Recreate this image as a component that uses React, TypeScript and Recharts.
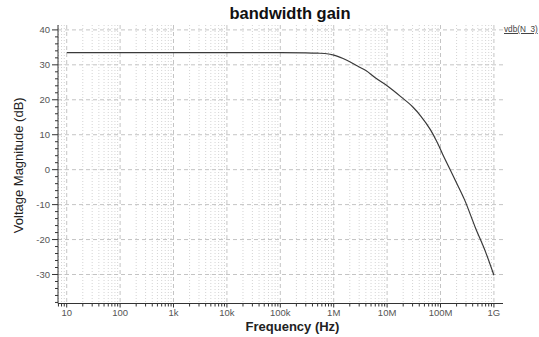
import { LineChart, Line, CartesianGrid, XAxis, YAxis, Label } from "recharts";

// frequency (Hz) and gain (dB)
const freqs = [
  10, 1e2, 1e3, 1e4, 1e5, 3e5, 5e5, 8e5, 1e6, 1.5e6, 2e6, 3e6, 4e6, 6e6, 1e7,
  1.8e7, 3e7, 4.2e7, 6.5e7, 8.7e7, 1.16e8, 1.55e8, 2e8, 2.8e8, 4.5e8, 7e8, 1e9,
];
const gain = [
  33.5, 33.5, 33.5, 33.5, 33.5, 33.45, 33.35, 33.1, 32.8, 31.8, 30.9, 29.4, 28.4,
  26.3, 24.0, 20.9, 18.0, 15.5, 11.4, 7.8, 3.6, -0.3, -3.8, -8.5, -16.6, -23.6,
  -30.2,
];

const decades = [10, 1e2, 1e3, 1e4, 1e5, 1e6, 1e7, 1e8, 1e9];
const decadeLabels = ["10", "100", "1k", "10k", "100k", "1M", "10M", "100M", "1G"];
const minorFreqs = [
  7, 8, 9,
  20, 30, 40, 50, 60, 70, 80, 90,
  200, 300, 400, 500, 600, 700, 800, 900,
  2e3, 3e3, 4e3, 5e3, 6e3, 7e3, 8e3, 9e3,
  2e4, 3e4, 4e4, 5e4, 6e4, 7e4, 8e4, 9e4,
  2e5, 3e5, 4e5, 5e5, 6e5, 7e5, 8e5, 9e5,
  2e6, 3e6, 4e6, 5e6, 6e6, 7e6, 8e6, 9e6,
  2e7, 3e7, 4e7, 5e7, 6e7, 7e7, 8e7, 9e7,
  2e8, 3e8, 4e8, 5e8, 6e8, 7e8, 8e8, 9e8,
];
const yMajor = [-30, -20, -10, 0, 10, 20, 30, 40];
const yTicks = [
  -38, -36, -34, -32, -30, -28, -26, -24, -22, -20, -18, -16, -14, -12, -10, -8,
  -6, -4, -2, 0, 2, 4, 6, 8, 10, 12, 14, 16, 18, 20, 22, 24, 26, 28, 30, 32, 34,
  36, 38, 40,
];

const xDomain = [6.87, 1.48e9];
const yDomain = [-38.3, 41.4];

const data = freqs.map((f, i) => ({ f, db: gain[i] }));
const allXTicks = [...decades, ...minorFreqs].sort((a, b) => a - b);

const font = "'Liberation Sans', Arial, sans-serif";

function XTick(props: any) {
  const { x, y, payload } = props;
  const idx = decades.indexOf(payload.value);
  const major = idx >= 0;
  return (
    <g>
      <line x1={x} x2={x} y1={y - 6} y2={y - 6 + (major ? 4 : 3)} stroke="#333" />
      {major && (
        <text x={x} y={y + 6} textAnchor="middle" fontSize={9.5} fill="#555" fontFamily={font}>
          {decadeLabels[idx]}
        </text>
      )}
    </g>
  );
}

function YTick(props: any) {
  const { x, y, payload } = props;
  const major = yMajor.includes(payload.value);
  return (
    <g>
      <line x1={x + 9} x2={x + 9 - (major ? 6 : 3)} y1={y} y2={y} stroke="#333" />
      {major && (
        <text x={x + 1} y={y + 3.3} textAnchor="end" fontSize={9.5} fill="#555" fontFamily={font}>
          {payload.value}
        </text>
      )}
    </g>
  );
}

export default function App() {
  return (
    <div style={{ position: "relative", width: 539, height: 337, overflow: "hidden", background: "#fff", fontFamily: font }}>
      <style>{"body{margin:0}"}</style>
      <div style={{ position: "absolute", left: 0, width: 580, top: 4, textAlign: "center", fontSize: 16.5, fontWeight: "bold", lineHeight: "18px", color: "#111" }}>
        bandwidth gain
      </div>
      <div style={{ position: "absolute", left: 504, top: 25, fontSize: 8.2, color: "#444", textDecoration: "underline", whiteSpace: "nowrap", lineHeight: "10px" }}>
        vdb(N_3)
      </div>
      <LineChart width={539} height={337} data={data} margin={{ top: 25, right: 36, left: 0, bottom: 0 }}>
        <CartesianGrid
          stroke="#d4d4d4"
          strokeDasharray="1 2"
          horizontal={false}
          verticalValues={minorFreqs}
        />
        <CartesianGrid
          stroke="#c4c4c4"
          strokeDasharray="4 3"
          horizontalValues={yMajor}
          verticalValues={decades}
        />
        <XAxis
          dataKey="f"
          type="number"
          scale="log"
          domain={xDomain}
          allowDataOverflow
          ticks={allXTicks}
          interval={0}
          height={33.5}
          tickSize={4}
          tickMargin={2}
          tickLine={false}
          tick={<XTick />}
          stroke="#333"
        >
          <Label
            content={(p: any) => {
              const vb = p.viewBox;
              return (
                <text x={vb.x + vb.width / 2 + 12} y={vb.y + 27.5} textAnchor="middle" fontSize={13} fontWeight="bold" fill="#222" fontFamily={font}>
                  Frequency (Hz)
                </text>
              );
            }}
          />
        </XAxis>
        <XAxis
          xAxisId="top"
          orientation="top"
          dataKey="f"
          type="number"
          scale="log"
          domain={xDomain}
          allowDataOverflow
          height={0}
          tick={false}
          tickLine={false}
          stroke="#555"
        />
        <YAxis
          type="number"
          domain={yDomain}
          allowDataOverflow
          ticks={yTicks}
          interval={0}
          width={58}
          tickSize={6}
          tickMargin={3}
          tickLine={false}
          tick={<YTick />}
          stroke="#333"
        >
          <Label
            content={(p: any) => {
              const vb = p.viewBox;
              const cy = vb.y + vb.height / 2 + 1;
              return (
                <text x={18} y={cy} transform={`rotate(-90 18 ${cy})`} textAnchor="middle" dominantBaseline="central" fontSize={13} fill="#222" fontFamily={font}>
                  Voltage Magnitude (dB)
                </text>
              );
            }}
          />
        </YAxis>
        <YAxis
          yAxisId="right"
          orientation="right"
          type="number"
          domain={yDomain}
          allowDataOverflow
          width={0}
          tick={false}
          tickLine={false}
          stroke="#333"
        />
        <Line
          type="monotone"
          dataKey="db"
          stroke="#3a3a3a"
          strokeWidth={1.2}
          dot={false}
          isAnimationActive={false}
        />
      </LineChart>
    </div>
  );
}
